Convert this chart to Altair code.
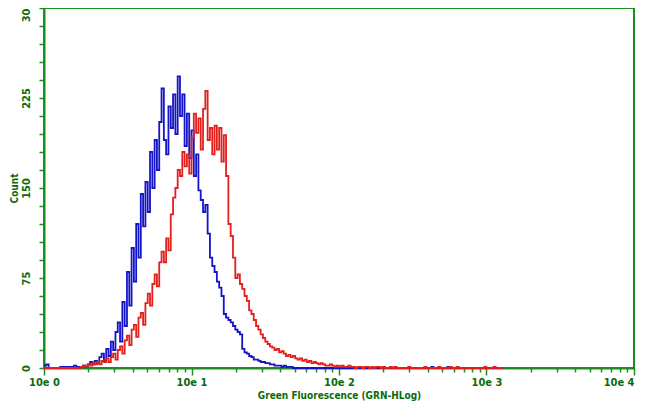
import altair as alt
import pandas as pd

# ---- data (counts per log channel, 64 channels per decade) ----
CH_PER_DECADE = 64
N_CH = 200

blue_start = 0
blue_counts = [2, 3, 0, 0, 0, 0, 0, 1, 1, 1, 1, 1, 1, 2, 1, 1, 1, 2, 1,
               3, 5, 3, 6, 4, 9, 12, 6, 16, 10, 22, 15, 30, 38, 22, 55, 35,
               80, 52, 100, 72, 120, 92, 145, 118, 155, 130, 180, 150, 190,
               165, 205, 233, 190, 178, 218, 200, 228, 195, 243, 210, 228,
               185, 212, 175, 198, 160, 178, 148, 140, 130, 136, 112, 92, 85,
               80, 72, 67, 60, 45, 42, 40, 38, 35, 32, 30, 28, 16, 13, 12, 10,
               9, 7, 7, 6, 5, 5, 4, 4, 3, 3, 2, 2, 2, 1, 2, 1, 1, 1, 0]
blue_tail_ch = [168, 175]
blue_tail_n = [1, 1]

red_start = 16
red_counts = [1, 2, 1, 3, 2, 4, 3, 5, 3, 6, 5, 8, 5, 9, 12, 7, 15, 18, 12,
              23, 27, 19, 32, 36, 26, 42, 46, 36, 54, 62, 52, 70, 78, 68, 88,
              97, 88, 108, 98, 128, 142, 150, 165, 160, 180, 168, 178, 162,
              192, 212, 196, 208, 182, 216, 231, 190, 200, 178, 202, 182, 200,
              172, 194, 160, 120, 110, 92, 75, 78, 70, 66, 60, 56, 48, 45, 40,
              35, 32, 28, 25, 22, 20, 18, 17, 15, 16, 13, 14, 12, 10, 11, 9,
              10, 8, 7, 8, 6, 7, 5, 6, 4, 5, 4, 3, 4, 3, 2, 2, 3, 2, 1, 2, 1,
              2, 1, 1, 2, 1, 1, 0]
red_tail_ch = [136, 137, 139, 140, 142, 144, 145, 147, 150, 152, 158, 165,
               171, 176, 179, 191, 195]
red_tail_n = [1, 1, 1, 1, 1, 1, 1, 1, 1, 1, 1, 1, 1, 1, 1, 1, 1]

series_names = ["blue", "red"]
series_colors = ["#1414c8", "#e3201c"]

x_major = [1, 10, 100, 1000, 10000]
y_ticks = list(range(0, 301, 15))


def build(name, start, counts, tail_ch, tail_n):
    arr = [0] * N_CH
    for i, c in enumerate(counts):
        arr[start + i] = c
    for ch, n in zip(tail_ch, tail_n):
        arr[ch] = n
    return [{"series": name, "ch": ch, "fl": 10 ** (ch / CH_PER_DECADE),
             "count": v} for ch, v in enumerate(arr)]


rows = build("blue", blue_start, blue_counts, blue_tail_ch, blue_tail_n) + \
       build("red", red_start, red_counts, red_tail_ch, red_tail_n)
df = pd.DataFrame(rows)

x_ticks = []
for d in x_major[:-1]:
    for m in range(1, 10):
        x_ticks.append(m * d)
x_ticks.append(x_major[-1])

GREEN = "#1e8c1e"
TEXT = "#0b6b0b"
FONT = "Liberation Sans Narrow, DejaVu Sans Condensed, Arial Narrow, sans-serif"
major_test = "indexof([1,10,100,1000,10000], datum.value) >= 0"

chart = alt.Chart(df).mark_line(interpolate="step-after", strokeWidth=1.8).encode(
    x=alt.X("fl:Q",
            scale=alt.Scale(type="log", domain=[1, 10000], nice=False),
            axis=alt.Axis(values=x_ticks,
                          title="Green Fluorescence (GRN-HLog)",
                          labelExpr=major_test + " ? '10e ' + round(log(datum.value)/LN10) : ''",
                          labelFlush=False, labelOverlap=False,
                          labelAlign={"condition": {"test": "datum.value == 10000", "value": "right"},
                                      "value": "center"},
                          tickSize={"condition": {"test": major_test, "value": 7}, "value": 4},
                          labelPadding=1, titlePadding=3)),
    y=alt.Y("count:Q",
            scale=alt.Scale(domain=[0, 300], nice=False),
            axis=alt.Axis(values=y_ticks, title="Count",
                          labelExpr="datum.value % 75 == 0 ? (datum.value == 300 ? '30' : datum.label) : ''",
                          labelAngle=270,
                          labelAlign={"condition": {"test": "datum.value == 300", "value": "right"},
                                      "value": "center"},
                          labelOverlap=False, tickSize=5, labelPadding=8,
                          titlePadding=1)),
    color=alt.Color("series:N", scale=alt.Scale(domain=series_names, range=series_colors),
                    legend=None),
    order=alt.Order("ch:Q"),
).properties(
    width=590, height=360,
    autosize=alt.AutoSizeParams(type="none"),
    padding={"left": 36, "top": 0, "right": 8, "bottom": 37},
).configure_view(
    stroke=GREEN, strokeWidth=2
).configure_axis(
    domainColor=GREEN, domainWidth=2, tickColor=GREEN, tickWidth=1.5,
    labelColor=TEXT, titleColor=TEXT, labelFont=FONT, titleFont=FONT,
    labelFontSize=11, titleFontSize=10, labelFontWeight="bold", titleFontWeight="bold",
    grid=False, zindex=1
)

chart.save("out.html", embed_options={"renderer": "svg", "actions": False})
